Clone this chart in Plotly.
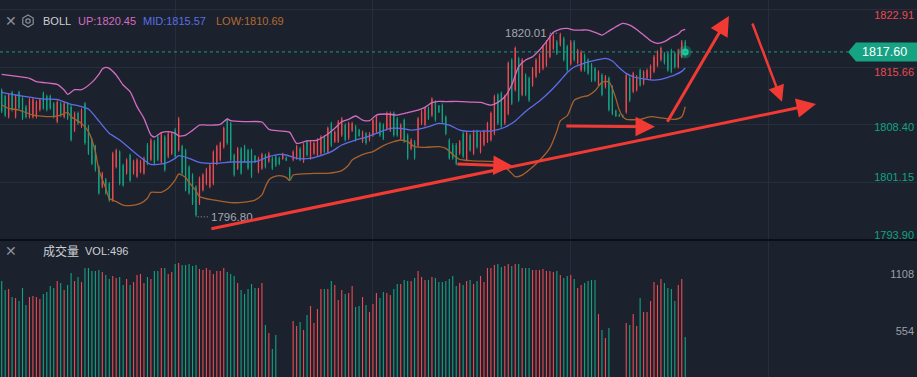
import plotly.graph_objects as go

# ---------------- data ----------------
opens = [1812.8,1812.0,1809.4,1812.5,1809.4,1812.5,1811.8,1810.7,1809.4,1809.4,
         1809.4,1810.3,1812.4,1812.0,1812.0,1811.1,1808.8,1811.1,1809.4,1811.1,
         1810.7,1807.7,1809.9,1808.2,1811.1,1808.2,1806.5,1805.7,1803.1,1800.6,
         1801.5,1801.0,1798.9,1803.1,1805.0,1803.3,1802.3,1804.6,1802.3,1801.9,
         1802.5,1802.3,1805.9,1804.0,1806.3,1806.9,1803.7,1806.9,1804.4,1804.8,
         1807.8,1805.2,1805.7,1805.2,1803.1,1802.1,1800.6,1798.5,1800.2,1801.0,
         1800.6,1801.0,1803.5,1804.0,1805.6,1809.0,1808.6,1804.6,1802.9,1805.4,
         1805.7,1805.2,1805.2,1804.5,1802.5,1802.9,1804.6,1803.8,1804.2,1804.4,
         1804.2,1804.1,1804.3,1802.9,1804.0,1804.2,1805.4,1803.8,1806.3,1804.2,
         1804.8,1804.6,1804.8,1806.9,1805.0,1808.6,1806.3,1806.3,1807.1,1808.4,
         1806.7,1807.7,1808.2,1807.8,1806.3,1807.3,1806.5,1807.1,1807.5,1808.6,
         1808.4,1807.9,1807.7,1809.9,1809.2,1806.7,1809.0,1807.1,1805.4,1806.3,
         1805.8,1808.6,1808.4,1810.5,1809.6,1811.3,1810.8,1810.9,1809.4,1806.5,
         1805.9,1805.9,1804.8,1807.3,1804.0,1807.1,1804.8,1807.6,1805.0,1805.9,
         1806.3,1806.5,1807.3,1812.2,1812.4,1808.6,1809.8,1816.6,1812.8,1816.8,
         1812.2,1814.7,1814.3,1813.4,1814.5,1815.1,1815.5,1815.9,1817.0,1818.0,
         1818.9,1818.5,1819.3,1818.3,1816.1,1818.9,1816.2,1815.3,1817.2,1816.6,
         1816.0,1815.5,1813.4,1814.7,1813.2,1814.3,1813.2,1810.2,1809.7,1809.6,
         1810.0,1814.3,1812.6,1812.8,1815.3,1813.6,1814.3,1814.3,1815.1,1815.9,
         1816.6,1817.4,1817.4,1817.8,1817.4,1815.7,1817.0,1818.9]
highs = [1813.0,1812.2,1812.4,1812.7,1812.2,1812.7,1812.0,1810.9,1811.8,1811.8,
         1811.5,1811.8,1812.6,1812.2,1812.2,1811.3,1811.5,1811.3,1811.3,1811.3,
         1810.9,1810.1,1810.1,1810.5,1811.3,1808.4,1806.7,1805.9,1803.3,1802.5,
         1801.7,1801.2,1805.0,1805.4,1805.2,1803.5,1804.2,1804.8,1804.0,1804.2,
         1804.0,1804.4,1806.1,1806.7,1806.5,1807.1,1807.5,1807.1,1807.5,1807.5,
         1808.0,1809.4,1805.9,1805.4,1803.3,1802.3,1800.8,1801.9,1802.3,1803.0,
         1803.5,1805.2,1805.9,1806.3,1808.2,1809.2,1808.8,1804.8,1805.6,1805.6,
         1805.9,1805.4,1805.4,1804.6,1804.4,1804.9,1804.8,1805.0,1804.4,1804.6,
         1804.4,1804.9,1804.4,1803.1,1805.2,1805.9,1805.6,1806.1,1806.5,1806.5,
         1806.3,1806.7,1807.1,1807.1,1808.2,1808.8,1807.7,1809.0,1809.4,1808.6,
         1808.8,1808.8,1808.4,1807.9,1807.7,1807.5,1807.5,1809.2,1809.6,1808.8,
         1808.6,1810.1,1810.1,1810.1,1809.4,1808.6,1809.2,1807.3,1806.7,1806.5,
         1809.4,1810.3,1810.7,1810.7,1811.9,1811.5,1810.9,1811.1,1809.6,1806.7,
         1806.1,1806.1,1806.5,1807.5,1807.6,1807.3,1807.8,1807.8,1807.5,1807.8,
         1808.8,1810.1,1812.2,1812.4,1812.6,1812.2,1816.4,1816.8,1818.3,1817.0,
         1816.8,1814.9,1814.5,1815.7,1816.8,1817.4,1818.5,1819.1,1819.8,1819.8,
         1819.1,1820.01,1819.5,1818.5,1819.1,1819.1,1818.0,1817.8,1817.4,1816.8,
         1816.2,1815.7,1815.3,1814.9,1814.7,1814.5,1813.4,1810.3,1809.8,1809.7,
         1814.9,1814.5,1815.1,1814.7,1815.5,1815.3,1815.5,1816.0,1817.2,1817.8,
         1818.3,1817.6,1817.6,1818.0,1817.6,1818.0,1819.1,1819.1]
lows = [1809.9,1809.4,1809.2,1810.1,1809.2,1810.3,1809.0,1809.2,1809.2,1809.2,
        1809.2,1810.1,1810.3,1810.1,1810.3,1809.2,1808.6,1809.4,1809.2,1809.0,
        1806.3,1807.5,1808.4,1808.0,1805.9,1804.6,1803.3,1802.5,1799.6,1800.4,
        1799.6,1798.7,1798.7,1802.9,1800.8,1800.6,1802.1,1801.2,1802.1,1801.7,
        1802.3,1802.1,1803.3,1803.8,1803.3,1803.8,1803.5,1802.5,1804.2,1804.6,
        1804.2,1805.0,1802.1,1800.0,1799.6,1798.3,1796.8,1798.3,1800.0,1800.8,
        1800.4,1800.8,1803.3,1803.8,1805.4,1805.9,1803.8,1801.9,1802.7,1802.1,
        1803.6,1802.7,1801.7,1803.6,1802.3,1802.7,1802.9,1803.6,1802.7,1803.1,
        1803.3,1804.0,1803.8,1801.4,1803.8,1804.0,1803.8,1803.6,1804.4,1804.0,
        1804.6,1804.4,1804.6,1804.8,1804.8,1805.6,1806.1,1806.1,1806.9,1806.3,
        1806.5,1807.5,1806.3,1806.9,1806.1,1805.9,1806.3,1806.9,1807.3,1806.9,
        1806.5,1807.7,1807.5,1806.9,1806.9,1806.5,1806.1,1804.0,1805.2,1804.0,
        1805.6,1808.4,1808.2,1809.0,1809.4,1808.8,1809.9,1808.6,1807.1,1804.0,
        1804.0,1803.3,1804.6,1804.2,1803.8,1805.0,1804.6,1805.4,1804.8,1805.7,
        1806.1,1806.3,1807.1,1808.4,1808.0,1808.4,1809.6,1810.9,1812.6,1811.3,
        1812.0,1812.0,1811.3,1813.2,1814.3,1814.9,1815.3,1815.7,1816.8,1817.8,
        1817.2,1818.3,1816.4,1815.1,1815.9,1816.4,1816.0,1815.1,1815.1,1814.7,
        1813.8,1813.8,1813.2,1812.0,1813.0,1810.1,1809.6,1809.4,1809.4,1809.3,
        1809.8,1811.3,1812.4,1812.6,1813.2,1813.4,1814.1,1814.1,1814.9,1815.7,
        1816.4,1816.0,1815.1,1814.9,1815.5,1815.5,1816.8,1817.0]
closes = [1810.1,1809.6,1812.2,1810.3,1812.0,1810.5,1809.2,1809.4,1811.6,1811.6,
          1811.3,1811.6,1810.5,1810.3,1810.5,1809.4,1811.3,1809.6,1811.1,1809.2,
          1806.5,1809.9,1808.6,1810.3,1806.1,1804.8,1803.5,1802.7,1799.8,1802.3,
          1799.8,1798.9,1804.8,1805.2,1801.0,1800.8,1804.0,1801.4,1803.8,1804.0,
          1803.8,1804.2,1803.5,1806.5,1803.5,1804.0,1807.3,1802.7,1807.3,1807.3,
          1804.4,1809.2,1802.3,1800.2,1799.8,1798.5,1797.0,1801.7,1802.1,1802.8,
          1803.3,1805.0,1805.7,1806.1,1808.0,1806.1,1804.0,1802.1,1805.4,1802.3,
          1803.8,1802.9,1801.9,1803.7,1804.2,1804.7,1803.1,1804.8,1802.9,1803.3,
          1803.5,1804.8,1803.9,1801.6,1805.0,1805.7,1804.0,1805.9,1804.6,1806.3,
          1806.1,1806.5,1806.9,1805.0,1808.0,1805.8,1807.5,1808.8,1809.2,1806.5,
          1808.6,1808.6,1806.5,1807.0,1807.5,1806.1,1807.3,1809.0,1809.4,1807.1,
          1806.7,1809.9,1809.9,1807.1,1807.1,1808.4,1806.3,1804.2,1806.5,1804.2,
          1809.2,1810.1,1810.5,1809.2,1811.7,1809.0,1810.0,1808.8,1807.3,1804.2,
          1804.2,1803.5,1806.3,1804.4,1807.4,1805.2,1807.6,1805.6,1807.3,1807.6,
          1808.6,1809.9,1812.0,1808.6,1808.2,1812.0,1816.2,1811.1,1818.1,1811.5,
          1816.6,1812.2,1811.5,1815.5,1816.6,1817.2,1818.3,1818.9,1819.6,1819.6,
          1817.4,1819.8,1816.6,1815.3,1818.9,1816.6,1817.8,1817.6,1815.3,1814.9,
          1814.0,1814.0,1815.1,1812.2,1814.5,1810.3,1809.8,1809.5,1809.5,1809.4,
          1814.7,1811.5,1814.9,1814.5,1813.4,1815.1,1815.3,1815.8,1817.0,1817.6,
          1818.1,1816.2,1815.3,1815.1,1815.7,1817.8,1818.9,1817.6]
volumes = [1040,953,962,885,875,846,972,807,885,894,
           885,865,914,933,991,972,1040,1021,953,1001,
           1118,1040,1079,1030,1166,1166,1137,1137,1147,1128,
           1098,1059,1089,1069,1079,1001,1059,1001,1030,1098,
           1108,1021,1079,1059,1137,1137,1166,1166,1108,1128,
           1205,1215,1196,1196,1205,1186,1196,1157,1147,1166,
           1147,1108,1137,1137,1166,1128,1108,1089,1021,953,
           914,962,1011,972,972,1021,612,535,379,515,
           80,95,60,90,651,603,642,564,710,797,
           632,768,962,962,962,1040,1001,855,953,914,
           923,991,787,797,885,807,739,816,923,875,
           933,923,904,962,1011,1011,1050,1040,1040,1069,
           1137,1079,1050,1050,1079,1069,1030,1030,1040,1059,
           1089,991,1021,1001,1040,1050,1011,1040,1089,1030,
           1166,1166,1196,1205,1176,1186,1205,1186,1205,1205,
           1166,1166,1166,1147,1147,1147,1157,1137,1137,1128,
           1137,1098,1069,1089,1098,1059,972,1001,1021,1040,
           1050,1050,719,564,486,583,90,70,60,85,
           632,612,719,603,875,739,739,846,1030,1001,
           1059,1021,972,962,846,1001,1059,496]

up_x = [0,5,8,10,14,16,18,19,21,23,26,28,29,30,31,33,35,37,39,41,43,44,46,48,50,51,53,55,57,59,
        61,63,65,66,70,75,77,80,83,85,88,91,94,96,98,100,102,104,106,108,111,114,117,120,122,124,
        126,128,131,133,135,138,141,143,145,147,149,151,153,155,157,159,161,163,165,167,169,171,
        173,175,177,179,181,183,185,187,189,191,193,195,196,197]
up_v = [1814.77,1814.48,1814.27,1813.85,1813.64,1813.51,1812.80,1812.25,1812.84,1812.84,1813.76,
        1814.77,1815.44,1815.65,1815.53,1814.69,1813.43,1812.59,1810.70,1809.22,1807.12,1806.87,
        1807.42,1807.54,1807.33,1807.00,1807.12,1807.71,1808.38,1808.38,1808.38,1808.47,1809.14,
        1808.93,1808.80,1808.76,1807.84,1807.63,1807.46,1806.07,1806.37,1806.49,1807.25,1807.96,
        1808.80,1809.10,1809.52,1809.01,1808.93,1809.64,1809.77,1809.64,1809.94,1810.27,1810.61,
        1811.20,1811.37,1811.33,1811.37,1811.33,1811.28,1811.24,1810.90,1811.24,1811.95,1813.42,
        1815.74,1816.58,1817.00,1817.84,1818.89,1820.07,1820.49,1820.57,1820.36,1820.36,1820.36,
        1820.07,1819.73,1820.23,1820.78,1821.20,1820.99,1820.44,1819.73,1819.01,1818.68,1818.89,
        1819.43,1819.85,1820.30,1820.45]
mid_x = [0,4,9,12,16,19,23,25,27,31,34,38,41,43,47,50,51,54,57,62,66,73,77,80,82,85,89,91,95,98,
         102,105,108,112,115,118,120,123,126,129,132,135,137,141,143,145,148,151,155,158,161,163,
         165,168,171,174,176,178,180,182,185,188,190,192,194,196,197]
mid_v = [1812.50,1812.17,1811.83,1811.66,1811.62,1811.12,1810.70,1810.40,1809.43,1807.33,1806.49,
         1805.02,1803.97,1803.42,1803.55,1804.18,1804.52,1804.18,1803.68,1803.55,1803.72,1803.76,
         1804.39,1804.68,1804.60,1804.18,1804.18,1804.39,1805.02,1805.86,1806.49,1806.83,1807.33,
         1807.96,1807.96,1807.75,1807.84,1808.17,1808.59,1808.38,1807.75,1807.58,1807.62,1807.62,
         1807.79,1808.10,1808.90,1810.10,1811.40,1812.60,1814.00,1815.00,1815.70,1816.20,1816.53,
         1816.79,1816.45,1815.61,1814.89,1814.47,1814.20,1814.05,1814.15,1814.40,1814.70,1815.15,
         1815.57]
low_x = [0,2,5,9,14,17,19,20,23,25,27,28,30,31,33,35,37,40,42,43,46,48,50,51,53,54,56,57,61,64,
         66,70,73,75,76,77,78,80,82,83,84,86,90,94,98,100,101,103,105,107,110,113,115,117,119,122,
         126,128,130,132,135,137,142,145,147,148,150,152,155,158,160,161,163,165,167,169,171,173,
         175,176,177,178,179,180,184,187,191,194,196,197]
low_v = [1810.90,1810.48,1810.27,1809.64,1809.43,1809.64,1809.98,1809.43,1808.59,1807.54,1805.02,
         1802.71,1800.40,1799.14,1798.72,1798.29,1798.21,1798.50,1799.14,1799.89,1799.89,1800.40,
         1801.45,1802.20,1801.78,1801.15,1800.06,1799.35,1798.93,1798.72,1798.59,1798.65,1798.90,
         1799.56,1800.60,1801.45,1801.78,1801.99,1801.78,1801.36,1802.08,1802.20,1802.29,1802.29,
         1802.62,1803.34,1803.97,1804.47,1804.81,1805.02,1805.78,1806.28,1806.49,1806.28,1805.65,
         1805.57,1805.65,1805.44,1804.68,1804.05,1803.89,1803.84,1803.76,1803.12,1802.28,1801.86,
         1802.07,1802.70,1803.90,1805.50,1807.60,1808.90,1809.56,1811.50,1811.90,1812.10,1812.70,
         1813.76,1813.84,1813.00,1811.74,1810.27,1809.43,1809.09,1809.09,1809.43,1809.22,1809.09,
         1809.43,1810.69]

price_ticks_red = [1822.91, 1815.66]
price_ticks_mid = [1808.40]
price_ticks_low = [1801.15, 1793.90]
vol_ticks = [554, 1108]
boll_up, boll_mid, boll_low = 1820.45, 1815.57, 1810.69
last_vol = 496
last_price = 1817.60
high_idx, high_val = 161, 1820.01
low_idx, low_val = 56, 1796.80
# hand-drawn red arrows: (tail index, tail price, head index, head price, width)
arrows = [
    (60.0, 1795.27, 234.7, 1811.03, 3),
    (130.9, 1803.47, 147.3, 1803.22, 3),
    (162.3, 1808.26, 188.3, 1808.17, 3),
    (191.6, 1808.60, 209.6, 1822.13, 3),
    (216.2, 1821.37, 224.9, 1811.31, 2.5),
]

# ---------------- style ----------------
BG = "#1b212d"
GRID = "#262e3c"
RED = "#ea4a51"
GREEN = "#12a382"
UPC = "#d46cc3"
MIDC = "#5b6ee8"
LOWC = "#a8612c"
FONT = "Arial, Liberation Sans, sans-serif"
W, H = 917, 377
TOP_DOM = [137 / 377, 1.0]
VOL_DOM = [0.0, 136 / 377]
X_RANGE = [-0.49, 263.8]

n = len(closes)
idx = list(range(n))
cols = [RED if c >= o else GREEN for o, c in zip(opens, closes)]

fig = go.Figure()
# wicks
fig.add_trace(go.Bar(x=idx, y=[h - l for h, l in zip(highs, lows)], base=lows,
                     width=0.28, marker=dict(color=cols, line=dict(width=0)),
                     hoverinfo="skip", xaxis="x", yaxis="y"))
# bodies
fig.add_trace(go.Bar(x=idx, y=[max(abs(c - o), 0.08) for o, c in zip(opens, closes)],
                     base=[min(o, c) for o, c in zip(opens, closes)],
                     width=0.38, marker=dict(color=cols, line=dict(width=0)),
                     hoverinfo="skip", xaxis="x", yaxis="y"))
# bands
for xs, vs, c in [(up_x, up_v, UPC), (mid_x, mid_v, MIDC), (low_x, low_v, LOWC)]:
    fig.add_trace(go.Scatter(x=xs, y=vs, mode="lines", line=dict(color=c, width=1.3, shape="spline", smoothing=0.6),
                             hoverinfo="skip", xaxis="x", yaxis="y"))
# last price dot
fig.add_trace(go.Scatter(x=[n - 1], y=[last_price], mode="markers",
                         marker=dict(size=13, color="rgba(24,200,150,0.3)"), hoverinfo="skip",
                         xaxis="x", yaxis="y"))
fig.add_trace(go.Scatter(x=[n - 1], y=[last_price], mode="markers",
                         marker=dict(size=7, color="#19c79a"), hoverinfo="skip",
                         xaxis="x", yaxis="y"))
# volume
fig.add_trace(go.Bar(x=idx, y=volumes, width=0.32, marker=dict(color=cols, line=dict(width=0)),
                     hoverinfo="skip", xaxis="x2", yaxis="y2"))
# dummy traces for overlay label axes
for ya in ["y3", "y4", "y5"]:
    fig.add_trace(go.Scatter(x=[0], y=[last_price], mode="none", hoverinfo="skip", xaxis="x", yaxis=ya))

ax_common = dict(range=X_RANGE, showticklabels=False, showline=False, zeroline=False, automargin=False,
                 showgrid=True, gridcolor=GRID, gridwidth=1, tickmode="linear", tick0=50, dtick=57, ticks="")
price_range = [1793.88, 1824.15]
lbl_common = dict(overlaying="y", side="right", range=price_range, showgrid=False, zeroline=False,
                  showline=False, ticks="", ticklabelposition="inside", ticklabeloverflow="allow",
                  automargin=False)

fig.update_layout(
    width=W, height=H, margin=dict(l=0, r=0, t=0, b=0, pad=0, autoexpand=False),
    paper_bgcolor=BG, plot_bgcolor=BG, showlegend=False, barmode="overlay",
    font=dict(family=FONT, size=11, color="#9aa0a8"),
    xaxis=dict(domain=[0, 1], anchor="y", **ax_common),
    xaxis2=dict(domain=[0, 1], anchor="y2", matches="x", **ax_common),
    yaxis=dict(domain=TOP_DOM, range=price_range, side="right", automargin=False,
               tickvals=price_ticks_red + price_ticks_mid + price_ticks_low,
               showticklabels=False, showgrid=True, gridcolor=GRID, zeroline=False, ticks=""),
    yaxis3=dict(tickvals=price_ticks_red, ticktext=[f"{v:.2f}" for v in price_ticks_red],
                tickfont=dict(color=RED, size=11, family=FONT), ticklabelshift=5, **lbl_common),
    yaxis4=dict(tickvals=price_ticks_mid, ticktext=[f"{v:.2f}" for v in price_ticks_mid],
                tickfont=dict(color=GREEN, size=11, family=FONT), ticklabelshift=2, **lbl_common),
    yaxis5=dict(tickvals=price_ticks_low, ticktext=[f"{v:.2f}" for v in price_ticks_low],
                tickfont=dict(color=GREEN, size=11, family=FONT), ticklabelshift=-5, **lbl_common),
    yaxis2=dict(domain=VOL_DOM, range=[107, 1429], side="right", tickvals=vol_ticks, automargin=False,
                ticklabelposition="inside", ticks="", showgrid=False, zeroline=False,
                tickfont=dict(color="#9aa0a8", size=11, family=FONT), ticklabeloverflow="allow"),
)

shapes = []
# separator between panels
shapes.append(dict(type="line", xref="paper", yref="paper", x0=0, x1=1, y0=TOP_DOM[0], y1=TOP_DOM[0],
                   line=dict(color="#07090d", width=1.5)))
# current price dashed line
shapes.append(dict(type="line", xref="paper", yref="y", x0=0, x1=848 / W, y0=last_price, y1=last_price,
                   line=dict(color="#1b9a7e", width=1, dash="3px,3px")))
# price tag
tip, bx = 848 / W, 856 / W
hh = 1.2
shapes.append(dict(type="path", xref="paper", yref="y",
                   path=f"M {tip},{last_price} L {bx},{last_price + hh} L 1,{last_price + hh} "
                        f"L 1,{last_price - hh} L {bx},{last_price - hh} Z",
                   fillcolor="#16a383", line=dict(width=0)))
# hexagon icon
pts = [(28, 15), (33.2, 18), (33.2, 24), (28, 27), (22.8, 24), (22.8, 18)]
path = "M " + " L ".join(f"{px / W},{1 - py / H}" for px, py in pts) + " Z"
shapes.append(dict(type="path", xref="paper", yref="paper", path=path,
                   line=dict(color="#8b9099", width=1.2)))
shapes.append(dict(type="circle", xref="paper", yref="paper", x0=25.8 / W, x1=30.2 / W,
                   y0=1 - 23.2 / H, y1=1 - 18.8 / H, line=dict(color="#8b9099", width=1.2)))
# dotted leaders for high/low marks
shapes.append(dict(type="line", xref="x", yref="y", x0=high_idx - 3.0, x1=high_idx - 0.5,
                   y0=high_val - 0.05, y1=high_val - 0.05, line=dict(color="#9aa0a8", width=1, dash="1px,2px")))
shapes.append(dict(type="line", xref="x", yref="y", x0=low_idx + 0.5, x1=low_idx + 3.5,
                   y0=low_val, y1=low_val, line=dict(color="#9aa0a8", width=1, dash="1px,2px")))
fig.update_layout(shapes=shapes)

ann = []
def txt(px, py, text, color, size=11, family=FONT, anchor="left"):
    ann.append(dict(xref="paper", yref="paper", x=px / W, y=1 - py / H, text=text, showarrow=False,
                    xanchor=anchor, yanchor="middle", font=dict(color=color, size=size, family=family)))

txt(3, 21, "✕", "#8b9099", size=14, family="DejaVu Sans")
txt(41, 21, "BOLL", "#cdd0d5")
txt(76, 21, f"UP:{boll_up:.2f}", UPC)
txt(141, 21, f"MID:{boll_mid:.2f}", MIDC)
txt(214, 21, f"LOW:{boll_low:.2f}", "#b8692f")
txt(3, 251, "✕", "#8b9099", size=14, family="DejaVu Sans")
txt(41, 251, "成交量", "#cdd0d5", size=12, family="Noto Sans CJK SC")
txt(83, 251, f"VOL:{last_vol}", "#cdd0d5")
# price tag text
ann.append(dict(xref="paper", yref="y", x=884 / W, y=last_price, text=f"{last_price:.2f}", showarrow=False,
                xanchor="center", yanchor="middle", font=dict(color="#ffffff", size=12.5, family=FONT)))
# high / low marks
ann.append(dict(xref="x", yref="y", x=high_idx - 3.0, y=high_val, text=f"{high_val:.2f}", showarrow=False,
                xanchor="right", yanchor="middle", xshift=-1, font=dict(color="#a3a7ae", size=11.5, family=FONT)))
ann.append(dict(xref="x", yref="y", x=low_idx + 3.6, y=low_val, text=f"{low_val:.2f}", showarrow=False,
                xanchor="left", yanchor="middle", xshift=1, font=dict(color="#a3a7ae", size=11.5, family=FONT)))
# red arrows
for tx, ty, hx, hy, w in arrows:
    ann.append(dict(xref="x", yref="y", axref="x", ayref="y", x=hx, y=hy, ax=tx, ay=ty, text="",
                    showarrow=True, arrowhead=2, arrowsize=1.3, arrowwidth=w, arrowcolor="#f23a35",
                    standoff=0, startstandoff=0))
fig.update_layout(annotations=ann)

fig.write_html("out.html", config={"displayModeBar": False, "staticPlot": True},
               post_script="document.body.style.margin='0';document.body.style.padding='0';"
                           "document.documentElement.style.background='" + BG + "';")
